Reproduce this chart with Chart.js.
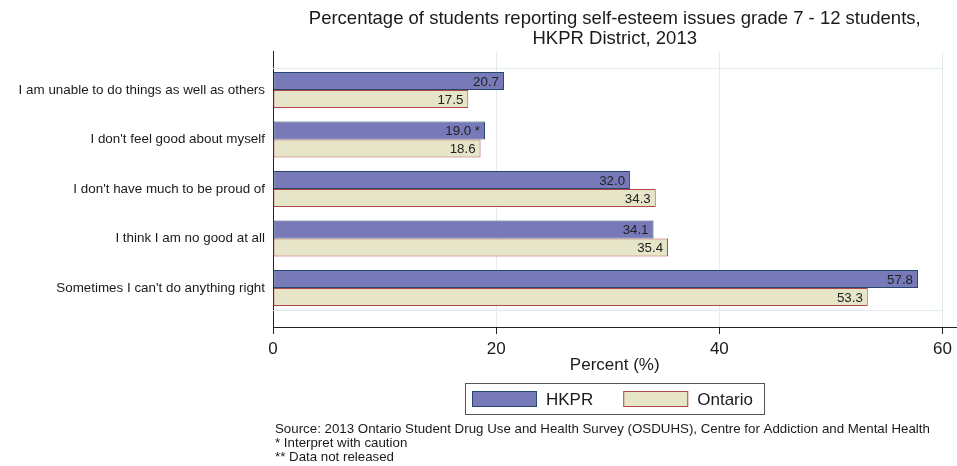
<!DOCTYPE html>
<html>
<head>
    <title>Self-esteem issues, HKPR District 2013</title>
    <script src="https://cdn.jsdelivr.net/npm/chart.js@4.4.0/dist/chart.umd.min.js"></script>
    <style>
        body {
            margin: 0;
            background-color: white;
            font-family: Arial, "Liberation Sans", sans-serif;
        }
        .chart-box {
            width: 957px;
            height: 466px;
            position: relative;
        }
    </style>
</head>
<body>
    <div class="chart-box">
        <canvas id="esteemChart"></canvas>
    </div>

    <script>
        // Data
        const categories = [
            'I am unable to do things as well as others',
            "I don't feel good about myself",
            "I don't have much to be proud of",
            'I think I am no good at all',
            "Sometimes I can't do anything right"
        ];
        const hkprValues = [20.7, 19.0, 32.0, 34.1, 57.8];
        const ontarioValues = [17.5, 18.6, 34.3, 35.4, 53.3];
        const hkprFlags = ['', '*', '', '', ''];
        const ontarioFlags = ['', '', '', '', ''];
        const xTicks = [0, 20, 40, 60];
        const seriesNames = ['HKPR', 'Ontario'];
        const titleLines = [
            'Percentage of students reporting self-esteem issues grade 7 - 12 students,',
            'HKPR District, 2013'
        ];
        const footnotes = [
            'Source: 2013 Ontario Student Drug Use and Health Survey (OSDUHS), Centre for Addiction and Mental Health',
            '* Interpret with caution',
            '** Data not released'
        ];

        const FONT = 'Arial, "Liberation Sans", sans-serif';
        const colors = {
            hkprFill: '#7879b9',
            hkprBorder: '#25486c',
            ontFill: '#e6e5c8',
            ontBorder: '#b04848',
            faint: '#e2ebed',
            text: '#1a1a1a'
        };

        // value labels inside the end of each bar
        const valueLabels = {
            id: 'valueLabels',
            afterDatasetsDraw(chart) {
                const ctx = chart.ctx;
                const flags = [hkprFlags, ontarioFlags];
                ctx.save();
                ctx.font = '13.3px ' + FONT;
                ctx.fillStyle = '#222';
                ctx.textAlign = 'right';
                ctx.textBaseline = 'middle';
                chart.data.datasets.forEach((ds, di) => {
                    chart.getDatasetMeta(di).data.forEach((bar, i) => {
                        let txt = ds.data[i].x.toFixed(1);
                        if (flags[di][i]) txt += ' ' + flags[di][i];
                        ctx.fillText(txt, bar.x - 5, bar.y + 1);
                    });
                });
                ctx.restore();
            }
        };

        // faint inner frame of the plot region
        const innerFrame = {
            id: 'innerFrame',
            beforeDatasetsDraw(chart) {
                const {ctx, scales: {x, y}, chartArea} = chart;
                const yTop = y.getPixelForValue(-0.45);
                const yBot = y.getPixelForValue(categories.length - 0.55);
                const xRight = x.getPixelForValue(xTicks[xTicks.length - 1]);
                ctx.save();
                ctx.strokeStyle = colors.faint;
                ctx.lineWidth = 1;
                ctx.beginPath();
                ctx.moveTo(chartArea.left, Math.round(yTop) + 0.5);
                ctx.lineTo(xRight, Math.round(yTop) + 0.5);
                ctx.moveTo(chartArea.left, Math.round(yBot) + 0.5);
                ctx.lineTo(xRight, Math.round(yBot) + 0.5);
                ctx.stroke();
                ctx.restore();
            }
        };

        // framed legend and the footnotes under the axis
        const bottomNotes = {
            id: 'bottomNotes',
            afterDraw(chart) {
                const {ctx, chartArea} = chart;
                const ds = chart.data.datasets;
                ctx.save();
                ctx.font = '17px ' + FONT;
                const swW = 65, swH = 16, gapText = 9, gapItem = 30, padL = 7, padR = 11;
                const widths = seriesNames.map(n => ctx.measureText(n).width);
                let total = padL + padR;
                widths.forEach((w, i) => {
                    total += swW + gapText + w + (i < widths.length - 1 ? gapItem : 0);
                });
                const cx = (chartArea.left + chartArea.right) / 2;
                const left = Math.round(cx - total / 2);
                const top = 383, h = 31;

                ctx.strokeStyle = '#555';
                ctx.lineWidth = 1;
                ctx.strokeRect(left + 0.5, top + 0.5, Math.round(total), h);

                let xPos = left + padL;
                const midY = top + h / 2 + 0.5;
                ctx.textBaseline = 'middle';
                ctx.textAlign = 'left';
                seriesNames.forEach((name, i) => {
                    ctx.fillStyle = ds[i].backgroundColor;
                    ctx.fillRect(xPos, midY - swH / 2, swW, swH);
                    ctx.strokeStyle = ds[i].borderColor;
                    ctx.strokeRect(xPos + 0.5, midY - swH / 2 + 0.5, swW - 1, swH - 1);
                    ctx.fillStyle = colors.text;
                    ctx.fillText(name, xPos + swW + gapText, midY + 1);
                    xPos += swW + gapText + widths[i] + gapItem;
                });

                ctx.font = '13.3px ' + FONT;
                ctx.fillStyle = colors.text;
                footnotes.forEach((line, i) => {
                    ctx.fillText(line, chartArea.left + 2, 429 + i * 14);
                });
                ctx.restore();
            }
        };

        new Chart(document.getElementById('esteemChart'), {
            type: 'bar',
            data: {
                datasets: [{
                    label: seriesNames[0],
                    data: hkprValues.map((v, i) => ({x: v, y: i})),
                    backgroundColor: colors.hkprFill,
                    borderColor: colors.hkprBorder,
                    borderWidth: 1,
                    borderSkipped: false
                }, {
                    label: seriesNames[1],
                    data: ontarioValues.map((v, i) => ({x: v, y: i})),
                    backgroundColor: colors.ontFill,
                    borderColor: colors.ontBorder,
                    borderWidth: 1,
                    borderSkipped: false
                }]
            },
            options: {
                indexAxis: 'y',
                responsive: true,
                maintainAspectRatio: false,
                animation: false,
                datasets: {
                    bar: {
                        categoryPercentage: 0.727,
                        barPercentage: 1.0
                    }
                },
                layout: {
                    padding: {left: 0, right: 0, top: 0, bottom: 90}
                },
                plugins: {
                    legend: {display: false},
                    tooltip: {enabled: false},
                    title: {
                        display: true,
                        fullSize: false,
                        text: titleLines,
                        color: colors.text,
                        font: {family: FONT, size: 18.5, weight: 'normal', lineHeight: 1.08},
                        padding: {top: 9, bottom: 3}
                    }
                },
                scales: {
                    x: {
                        type: 'linear',
                        min: 0,
                        max: 61.25,
                        afterBuildTicks: s => { s.ticks = xTicks.map(v => ({value: v})); },
                        afterFit: s => { s.height = 48; },
                        grid: {
                            color: colors.faint,
                            tickColor: '#222',
                            tickLength: 6
                        },
                        border: {color: '#222', width: 1},
                        ticks: {
                            color: colors.text,
                            font: {family: FONT, size: 17},
                            padding: 5,
                            maxRotation: 0
                        },
                        title: {
                            display: true,
                            text: 'Percent (%)',
                            color: colors.text,
                            font: {family: FONT, size: 17},
                            padding: 0
                        }
                    },
                    y: {
                        type: 'linear',
                        reverse: true,
                        offset: false,
                        min: -0.77,
                        max: 4.81,
                        afterBuildTicks: s => { s.ticks = categories.map((c, i) => ({value: i})); },
                        afterFit: s => { s.width = 273; },
                        grid: {display: false, drawTicks: false, offset: false},
                        border: {color: '#222', width: 1},
                        ticks: {
                            color: colors.text,
                            font: {family: FONT, size: 13.4},
                            padding: 8,
                            callback: v => categories[v]
                        }
                    }
                }
            },
            plugins: [innerFrame, valueLabels, bottomNotes]
        });
    </script>
</body>
</html>
